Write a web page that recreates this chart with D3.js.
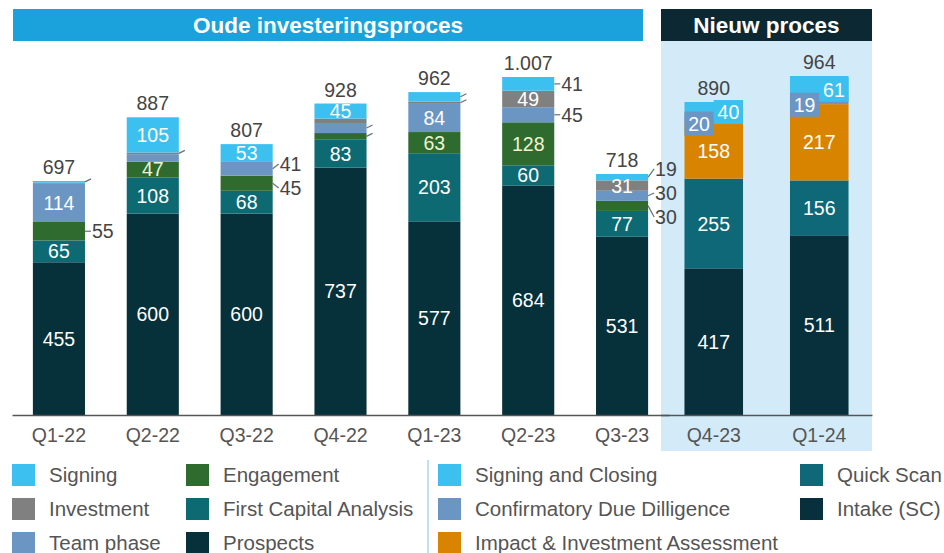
<!DOCTYPE html>
<html>
<head>
<meta charset="utf-8">
<script src="https://cdn.jsdelivr.net/npm/d3@7"></script>
<style>
  html, body { margin: 0; padding: 0; background: #fff; }
  svg { display: block; font-family: "Liberation Sans", Arial, sans-serif; }
</style>
</head>
<body>
<svg id="chart" width="944" height="553"></svg>
<script>
// ---------- DATA ----------
const quartersOld = ["Q1-22", "Q2-22", "Q3-22", "Q4-22", "Q1-23", "Q2-23", "Q3-23"];
const quartersNew = ["Q4-23", "Q1-24"];

// Old process (bottom -> top)
const prospects            = [455, 600, 600, 737, 577, 684, 531];
const firstCapitalAnalysis = [ 65, 108,  68,  83, 203,  60,  77];
const engagement           = [ 55,  47,  45,  20,  63, 128,  30];
const teamPhase            = [114,  22,  41,  30,  84,  45,  30];
const investment           = [  3,   5,   0,  13,   7,  49,  31];
const signing              = [  5, 105,  53,  45,  28,  41,  19];

// New process (bottom -> top)
const intake           = [417, 511];
const quickScan        = [255, 156];
const impactAssessment = [158, 217];
const confirmatoryDD   = [ 20,  19];
const signingClosing   = [ 40,  61];

// label placement per segment: in / out / tick / none
const labelsProspects  = ["in", "in", "in", "in", "in", "in", "in"];
const labelsFCA        = ["in", "in", "in", "in", "in", "in", "in"];
const labelsEngagement = ["out", "in", "out", "tick", "in", "in", "out"];
const labelsTeamPhase  = ["in", "none", "out", "tick", "in", "out", "out"];
const labelsInvestment = ["none", "tick", "none", "none", "tick", "in", "in"];
const labelsSigning    = ["tick", "in", "in", "in", "tick", "out", "out"];

const legendCol1 = ["Signing", "Investment", "Team phase"];
const legendCol2 = ["Engagement", "First Capital Analysis", "Prospects"];
const legendCol3 = ["Signing and Closing", "Confirmatory Due Dilligence", "Impact & Investment Assessment"];
const legendCol4 = ["Quick Scan", "Intake (SC)"];

const headerOld = "Oude investeringsproces";
const headerNew = "Nieuw proces";

// ---------- STYLE ----------
const colors = {
  "Prospects": "#06303a",
  "First Capital Analysis": "#0d6a73",
  "Engagement": "#2f6a2f",
  "Team phase": "#6b95c2",
  "Investment": "#808080",
  "Signing": "#3cc0f0",
  "Intake (SC)": "#07303c",
  "Quick Scan": "#0e6878",
  "Impact & Investment Assessment": "#d98400",
  "Confirmatory Due Dilligence": "#6b95c2",
  "Signing and Closing": "#3cc0f0"
};
const labelSize = 19.5;

const nl = d3.formatLocale({decimal: ",", thousands: ".", grouping: [3], currency: ["€", ""]});
const fmtTotal = nl.format(",d");

const svg = d3.select("#chart");
const baseY = 415;
const topY = 77;

const xOld = d3.scaleBand().domain(quartersOld).range([12, 669]).paddingInner(0.445).paddingOuter(0.2225);
const xNew = d3.scaleBand().domain(quartersNew).range([661, 872]).paddingInner(0.445).paddingOuter(0.2225);
const yOld = d3.scaleLinear().domain([0, 1007]).range([baseY, topY]);
const yNew = d3.scaleLinear().domain([0, 964]).range([baseY, 76]);

// light panel behind new process
svg.append("rect").attr("x", 661).attr("y", 41).attr("width", 211).attr("height", 410).attr("fill", "#d3ebf9");

// headers
svg.append("rect").attr("x", 13).attr("y", 9).attr("width", 630).attr("height", 32).attr("fill", "#1ba1db");
svg.append("text").attr("x", 328).attr("y", 25).attr("dy", "0.36em").attr("text-anchor", "middle")
  .attr("fill", "#fff").attr("font-weight", "bold").attr("font-size", 22.5).text(headerOld);
svg.append("rect").attr("x", 661).attr("y", 9).attr("width", 211).attr("height", 32).attr("fill", "#0c2833");
svg.append("text").attr("x", 766.5).attr("y", 25).attr("dy", "0.36em").attr("text-anchor", "middle")
  .attr("fill", "#fff").attr("font-weight", "bold").attr("font-size", 22.5).text(headerNew);

// ---------- OLD BARS ----------
const oldSeriesNames = ["Prospects", "First Capital Analysis", "Engagement", "Team phase", "Investment", "Signing"];
const oldValues = [prospects, firstCapitalAnalysis, engagement, teamPhase, investment, signing];
const oldModes = [labelsProspects, labelsFCA, labelsEngagement, labelsTeamPhase, labelsInvestment, labelsSigning];

const oldRows = quartersOld.map((q, i) => {
  const r = {q};
  oldSeriesNames.forEach((s, k) => r[s] = oldValues[k][i]);
  return r;
});
const oldStack = d3.stack().keys(oldSeriesNames)(oldRows);

const gOld = svg.append("g");
gOld.selectAll("g.layer").data(oldStack).join("g")
  .attr("fill", d => colors[d.key])
  .selectAll("rect").data(d => d).join("rect")
  .attr("x", d => xOld(d.data.q))
  .attr("y", d => yOld(d[1]))
  .attr("width", xOld.bandwidth())
  .attr("height", d => yOld(d[0]) - yOld(d[1]));

// labels old
quartersOld.forEach((q, i) => {
  const x0 = xOld(q), bw = xOld.bandwidth(), right = x0 + bw;
  const outs = [];
  oldStack.forEach((layer, k) => {
    const d = layer[i];
    const v = d[1] - d[0];
    const mid = (yOld(d[0]) + yOld(d[1])) / 2;
    const mode = oldModes[k][i];
    if (mode === "in") {
      svg.append("text").attr("x", x0 + bw / 2).attr("y", mid).attr("dy", "0.36em")
        .attr("text-anchor", "middle").attr("font-size", labelSize)
        .attr("fill", layer.key === "Engagement" ? "#eef4d2" : "#ffffff").text(v);
    } else if (mode === "out") {
      outs.push({v, mid});
    } else if (mode === "tick") {
      svg.append("line").attr("x1", right).attr("y1", mid).attr("x2", right + 6).attr("y2", mid - 3)
        .attr("stroke", "#6a6f80").attr("stroke-width", 1.2);
    }
  });
  // spread outside labels
  outs.sort((a, b) => a.mid - b.mid);
  const gap = 24;
  let needSpread = false;
  for (let j = 1; j < outs.length; j++) if (outs[j].mid - outs[j - 1].mid < gap) needSpread = true;
  if (needSpread) {
    const mean = d3.mean(outs, o => o.mid);
    outs.forEach((o, j) => o.ly = mean + (j - (outs.length - 1) / 2) * gap);
  } else outs.forEach(o => o.ly = o.mid);
  outs.forEach(o => {
    svg.append("line").attr("x1", right).attr("y1", o.mid).attr("x2", right + 6).attr("y2", o.ly)
      .attr("stroke", "#6a6f80").attr("stroke-width", 1.2);
    svg.append("text").attr("x", right + 7).attr("y", o.ly).attr("dy", "0.36em")
      .attr("font-size", labelSize).attr("fill", "#444").text(o.v);
  });
  // total
  const total = d3.sum(oldValues, arr => arr[i]);
  svg.append("text").attr("x", x0 + bw / 2).attr("y", yOld(total) - 14).attr("dy", "0.36em")
    .attr("text-anchor", "middle").attr("font-size", labelSize).attr("fill", "#444").text(fmtTotal(total));
});

// ---------- NEW BARS ----------
const newSeriesNames = ["Intake (SC)", "Quick Scan", "Impact & Investment Assessment", "Confirmatory Due Dilligence", "Signing and Closing"];
const newValues = [intake, quickScan, impactAssessment, confirmatoryDD, signingClosing];
const newRows = quartersNew.map((q, i) => {
  const r = {q};
  newSeriesNames.forEach((s, k) => r[s] = newValues[k][i]);
  return r;
});
const newStack = d3.stack().keys(newSeriesNames)(newRows);

svg.append("g").selectAll("g.layer").data(newStack).join("g")
  .attr("fill", d => colors[d.key])
  .selectAll("rect").data(d => d).join("rect")
  .attr("x", d => xNew(d.data.q))
  .attr("y", d => yNew(d[1]))
  .attr("width", xNew.bandwidth())
  .attr("height", d => yNew(d[0]) - yNew(d[1]));

quartersNew.forEach((q, i) => {
  const x0 = xNew(q), bw = xNew.bandwidth();
  newStack.forEach((layer, k) => {
    const d = layer[i];
    const v = d[1] - d[0];
    const mid = (yNew(d[0]) + yNew(d[1])) / 2;
    if (k < 3) {
      svg.append("text").attr("x", x0 + bw / 2).attr("y", mid).attr("dy", "0.36em")
        .attr("text-anchor", "middle").attr("font-size", labelSize).attr("fill", "#fff").text(v);
    } else {
      const left = k === 3;
      const bx = left ? x0 : x0 + bw / 2;
      const cy = mid + (left ? 4 : 3);
      svg.append("rect").attr("x", bx).attr("y", cy - 12).attr("width", bw / 2).attr("height", 24)
        .attr("fill", colors[layer.key]);
      svg.append("text").attr("x", bx + bw / 4).attr("y", cy).attr("dy", "0.36em")
        .attr("text-anchor", "middle").attr("font-size", labelSize).attr("fill", "#fff").text(v);
    }
  });
  const total = d3.sum(newValues, arr => arr[i]);
  svg.append("text").attr("x", x0 + bw / 2).attr("y", yNew(total) - 14).attr("dy", "0.36em")
    .attr("text-anchor", "middle").attr("font-size", labelSize).attr("fill", "#444").text(fmtTotal(total));
});

// ---------- AXES ----------
function styleAxis(g) {
  g.select(".domain").attr("stroke", "#555").attr("stroke-width", 1.5);
  g.selectAll("text").attr("font-size", 19.5).attr("fill", "#555")
    .attr("font-family", "'Liberation Sans', Arial, sans-serif");
}
svg.append("g").attr("transform", `translate(0,${baseY})`)
  .call(d3.axisBottom(xOld).tickSize(0).tickPadding(13).tickSizeOuter(0)).call(styleAxis);
svg.append("g").attr("transform", `translate(0,${baseY})`)
  .call(d3.axisBottom(xNew).tickSize(0).tickPadding(13).tickSizeOuter(0)).call(styleAxis);

// ---------- LEGEND ----------
const legendCols = [
  {x: 12, items: legendCol1},
  {x: 186, items: legendCol2},
  {x: 438, items: legendCol3},
  {x: 800, items: legendCol4}
];
const rowY = [475, 509, 543];
legendCols.forEach(col => {
  col.items.forEach((name, r) => {
    svg.append("rect").attr("x", col.x).attr("y", rowY[r] - 11).attr("width", 23).attr("height", 22)
      .attr("fill", colors[name]);
    svg.append("text").attr("x", col.x + 37).attr("y", rowY[r]).attr("dy", "0.36em")
      .attr("font-size", 20.5).attr("fill", "#555").text(name);
  });
});
svg.append("line").attr("x1", 428).attr("x2", 428).attr("y1", 460).attr("y2", 553)
  .attr("stroke", "#a8d8f2").attr("stroke-width", 1.5);
</script>
</body>
</html>
